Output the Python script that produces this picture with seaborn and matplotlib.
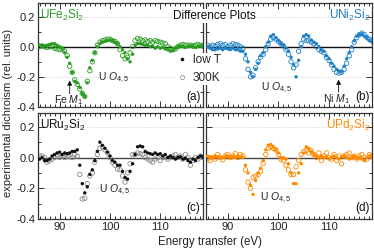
import numpy as np
import pandas as pd
import matplotlib
matplotlib.use("Agg")
import matplotlib.pyplot as plt
from matplotlib.lines import Line2D
from matplotlib.ticker import MultipleLocator
import seaborn as sns

sns.set_style("ticks")
plt.rcParams['font.family'] = ['Liberation Sans', 'DejaVu Sans']
plt.rcParams['mathtext.fontset'] = 'custom'
plt.rcParams['mathtext.rm'] = 'Liberation Sans'
plt.rcParams['mathtext.it'] = 'Liberation Sans:italic'

# energy grid (eV)
energy = np.arange(86.0, 118.51, 0.5)

# UFe2Si2
fe_low = [0.01, 0.01, 0.005, 0.01, 0.015, 0.02, 0.02, 0.01, 0.0, -0.01,
          -0.04, -0.07, -0.11, -0.17, -0.23, -0.24, -0.27, -0.31, -0.33, -0.24,
          -0.14, -0.09, -0.04, 0.0, 0.02, 0.03, 0.035, 0.04, 0.045, 0.04,
          0.03, 0.02, 0.0, -0.02, -0.04, -0.08, -0.1, -0.05, 0.01, 0.02,
          0.02, 0.015, 0.01, 0.01, 0.0, 0.005, -0.01, 0.0, -0.01, -0.005,
          -0.015, -0.02, -0.03, -0.025, -0.01, 0.0, 0.005, 0.0, -0.005, 0.0,
          0.005, 0.0, -0.005, 0.0, 0.005, 0.0]
fe_300 = [0.0, 0.005, 0.0, -0.005, 0.0, 0.0, -0.01, -0.015, -0.02, -0.015,
          -0.03, -0.06, -0.13, -0.17, -0.22, -0.25, -0.28, -0.31, -0.33, -0.23,
          -0.16, -0.1, -0.04, 0.01, 0.03, 0.04, 0.045, 0.05, 0.05, 0.04,
          0.035, 0.02, -0.02, -0.06, -0.08, -0.07, -0.04, 0.0, 0.04, 0.055,
          0.05, 0.04, 0.045, 0.035, 0.04, 0.03, 0.04, 0.035, 0.03, 0.025,
          0.02, 0.0, -0.01, -0.02, -0.015, 0.0, 0.01, 0.015, 0.01, 0.01,
          0.01, 0.005, 0.01, 0.015, 0.01, 0.005]

# UNi2Si2
ni_low = [0.0, -0.01, -0.02, -0.02, -0.015, -0.01, -0.02, -0.01, -0.015, -0.02,
          -0.01, -0.02, -0.02, -0.03, -0.03, -0.05, -0.1, -0.17, -0.2, -0.15,
          -0.11, -0.06, -0.04, 0.0, 0.03, 0.07, 0.08, 0.06, 0.04, 0.02,
          0.01, -0.01, -0.03, -0.07, -0.12, -0.2, -0.09, 0.0, 0.07, 0.08,
          0.07, 0.045, 0.03, 0.02, 0.0, -0.02, -0.03, -0.06, -0.08, -0.11,
          -0.13, -0.15, -0.16, -0.165, -0.13, -0.08, -0.04, 0.0, 0.04, 0.07,
          0.08, 0.085, 0.07, 0.06, 0.04, 0.03]
ni_300 = [0.01, 0.0, 0.01, 0.005, 0.015, 0.02, 0.01, 0.015, 0.0, 0.01,
          0.02, 0.015, 0.01, 0.0, -0.01, -0.08, -0.15, -0.2, -0.19, -0.14,
          -0.1, -0.07, -0.05, -0.02, 0.02, 0.05, 0.06, 0.05, 0.035, 0.02,
          0.005, -0.02, -0.05, -0.1, -0.14, -0.12, -0.03, 0.02, 0.05, 0.04,
          0.04, 0.03, 0.02, 0.0, -0.02, -0.03, -0.04, -0.07, -0.09, -0.12,
          -0.15, -0.17, -0.175, -0.17, -0.15, -0.11, -0.06, -0.02, 0.03, 0.06,
          0.08, 0.09, 0.08, 0.06, 0.05, 0.04]

# URu2Si2
ru_low = [-0.01, 0.0, -0.02, -0.02, -0.01, 0.01, 0.02, 0.03, 0.035, 0.02,
          0.03, 0.025, 0.03, 0.04, 0.04, 0.05, -0.05, -0.17, -0.23, -0.19,
          -0.11, -0.08, -0.02, 0.04, 0.1, 0.08, 0.06, 0.035, 0.01, -0.02,
          -0.03, -0.05, -0.05, -0.09, -0.13, -0.14, -0.09, -0.04, 0.02, 0.07,
          0.075, 0.07, 0.04, 0.03, 0.025, 0.02, 0.03, 0.02, 0.025, 0.01,
          0.02, 0.0, 0.01, 0.0, -0.01, 0.0, 0.005, -0.01, -0.005, -0.02,
          -0.03, -0.01, -0.02, 0.0, 0.01, 0.005]
ru_300 = [0.01, 0.01, 0.0, -0.03, -0.02, -0.01, 0.0, 0.01, 0.0, 0.01,
          0.0, 0.01, 0.005, 0.0, 0.02, 0.01, -0.11, -0.27, -0.265, -0.17,
          -0.12, -0.1, -0.03, 0.02, 0.06, 0.07, 0.05, 0.03, 0.0, -0.03,
          -0.05, -0.075, -0.08, -0.12, -0.16, -0.1, -0.04, 0.02, 0.02, 0.03,
          0.025, 0.02, 0.0, -0.01, -0.02, -0.03, -0.01, 0.0, -0.02, 0.0,
          0.0, -0.01, 0.0, 0.01, 0.02, 0.0, 0.01, -0.01, 0.02, 0.0,
          -0.05, -0.02, 0.0, -0.01, 0.01, 0.0]

# UPd2Si2
pd_low = [0.01, 0.005, 0.0, 0.01, 0.005, 0.0, 0.0, 0.005, 0.01, 0.0,
          0.005, 0.0, 0.01, 0.005, 0.0, -0.05, -0.1, -0.18, -0.24, -0.15,
          -0.1, -0.07, -0.02, 0.05, 0.08, 0.085, 0.07, 0.05, 0.03, 0.0,
          0.0, -0.01, -0.04, -0.1, -0.17, -0.17, -0.1, -0.04, 0.03, 0.07,
          0.06, 0.04, 0.02, 0.01, 0.0, 0.01, 0.0, 0.005, -0.01, 0.0,
          0.01, 0.0, -0.01, 0.005, 0.01, 0.0, -0.01, 0.0, 0.01, -0.005,
          0.0, -0.01, -0.02, 0.0, 0.01, 0.0]
pd_300 = [-0.01, -0.02, 0.0, -0.01, 0.02, 0.0, -0.015, 0.01, 0.02, 0.0,
          0.01, 0.025, 0.0, 0.02, 0.01, -0.08, -0.16, -0.2, -0.13, -0.12,
          -0.11, -0.09, -0.04, 0.02, 0.06, 0.07, 0.06, 0.05, 0.02, -0.01,
          -0.02, -0.05, -0.08, -0.11, -0.11, -0.06, -0.02, 0.02, 0.04, 0.045,
          0.03, 0.045, 0.02, 0.0, 0.03, -0.02, 0.01, 0.03, 0.0, -0.01,
          0.02, -0.02, 0.01, -0.04, 0.01, 0.02, 0.03, 0.0, 0.01, -0.01,
          0.01, 0.02, 0.0, -0.01, 0.02, 0.01]

panels = [
    ("UFe$_2$Si$_2$", fe_low, fe_300, "#2a9d22", "#2a9d22", "(a)"),
    ("UNi$_2$Si$_2$", ni_low, ni_300, "#1f80c4", "#1f80c4", "(b)"),
    ("URu$_2$Si$_2$", ru_low, ru_300, "#111111", "#8a8a8a", "(c)"),
    ("UPd$_2$Si$_2$", pd_low, pd_300, "#ff8a00", "#ff8a00", "(d)"),
]

W, H = 374, 250
fig = plt.figure(figsize=(3.74, 2.5), dpi=100)
boxes = [(38, 3, 203, 107), (206, 3, 372, 107), (38, 113, 203, 219), (206, 113, 372, 219)]
axes = []
for (x0, y0, x1, y1) in boxes:
    axes.append(fig.add_axes([x0 / W, 1 - y1 / H, (x1 - x0) / W, (y1 - y0) / H]))

for i, (ax, (name, low, hot, c_low, c_hot, tag)) in enumerate(zip(axes, panels)):
    df = pd.DataFrame({"E": energy, "low": low, "hot": hot})
    ax.axhline(0, color="#111111" if i < 2 else "#444444", lw=1.0, zorder=1)
    for yv in (0.2, -0.2):
        ax.axhline(yv, color="#c8c8c8", lw=0.6, ls=":", zorder=0)
    sns.scatterplot(data=df, x="E", y="hot", ax=ax, marker="o", s=10,
                    facecolor="none", edgecolor=c_hot, linewidth=0.6, zorder=2)
    sns.scatterplot(data=df, x="E", y="low", ax=ax, marker="o", s=6,
                    color=c_low, edgecolor="none", linewidth=0, zorder=3)
    ax.set_xlim(85.7, 118.5)
    ax.set_ylim(-0.4, 0.29)
    ax.set_xlabel("")
    ax.set_ylabel("")
    ax.xaxis.set_major_locator(MultipleLocator(10))
    ax.xaxis.set_minor_locator(MultipleLocator(1))
    ax.yaxis.set_major_locator(MultipleLocator(0.2))
    ax.yaxis.set_minor_locator(MultipleLocator(0.1))
    ax.tick_params(which="both", direction="in", top=True, right=True,
                   colors="#333333", labelcolor="#222222", labelsize=8, width=0.7)
    ax.tick_params(which="major", length=4, pad=2)
    ax.tick_params(which="minor", length=2)
    ax.yaxis.set_major_formatter(matplotlib.ticker.FuncFormatter(lambda v, p: f"{v:.1f}"))
    for sp in ax.spines.values():
        sp.set_color("#333333")
        sp.set_linewidth(0.9)
    if i % 2 == 1:
        ax.tick_params(labelleft=False)
    if i < 2:
        ax.tick_params(labelbottom=False)
    tcol = c_low if i != 2 else "#111111"
    if i % 2 == 0:
        ax.text(0.012, 0.955, name, transform=ax.transAxes, ha="left", va="top",
                color=tcol, fontsize=8.5)
    else:
        ax.text(0.99, 0.955, name, transform=ax.transAxes, ha="right", va="top",
                color=tcol, fontsize=8.5)
    ax.text(0.985, 0.1, tag, transform=ax.transAxes, ha="right", va="center",
            color="#111111", fontsize=8.5)

# U O4,5 labels
uo_pos = [(100.8, -0.205), (99.6, -0.27), (101.0, -0.21), (99.5, -0.265)]
for ax, (ex, ey) in zip(axes, uo_pos):
    ax.text(ex, ey, "U $O_{4,5}$", ha="center", va="center", color="#222222", fontsize=7.5)

# edge markers
axes[0].annotate("", xy=(92.0, -0.205), xytext=(92.0, -0.33),
                 arrowprops=dict(arrowstyle="-|>", color="#111111", lw=0.6, mutation_scale=7))
axes[0].text(91.9, -0.355, "Fe $M_1$", ha="center", va="center", color="#222222", fontsize=7.5)
axes[1].annotate("", xy=(111.9, -0.2), xytext=(111.9, -0.32),
                 arrowprops=dict(arrowstyle="-|>", color="#111111", lw=0.6, mutation_scale=7))
axes[1].text(111.5, -0.35, "Ni $M_1$", ha="center", va="center", color="#222222", fontsize=7.5)

fig.text(214 / W, 1 - 16 / H, "Difference Plots", ha="center", va="center",
         color="#111111", fontsize=8.5, zorder=10,
         bbox=dict(facecolor="white", edgecolor="none", pad=0.8))

handles = [Line2D([], [], ls="none", marker="o", ms=2.6, color="#111111", mec="none"),
           Line2D([], [], ls="none", marker="o", ms=3.0, mfc="none", mec="#9a9a9a", mew=0.6)]
leg = fig.legend(handles, ["low T", "300K"], loc="center left",
                 bbox_to_anchor=(170 / W, 1 - 69 / H), bbox_transform=fig.transFigure,
                 frameon=True, facecolor="white", edgecolor="none", framealpha=1,
                 fancybox=False, fontsize=8.5, handlelength=0.8, handletextpad=0.5,
                 labelspacing=0.45, borderpad=0.15)
leg.set_zorder(10)

fig.text(0.022, 1 - 113 / H, "experimental dichroism (rel. units)", rotation=90,
         ha="center", va="center", color="#222222", fontsize=8)
fig.text(210 / W, 1 - 242 / H, "Energy transfer (eV)", ha="center", va="center",
         color="#222222", fontsize=8.3)

fig.savefig("out.png", dpi=100)
